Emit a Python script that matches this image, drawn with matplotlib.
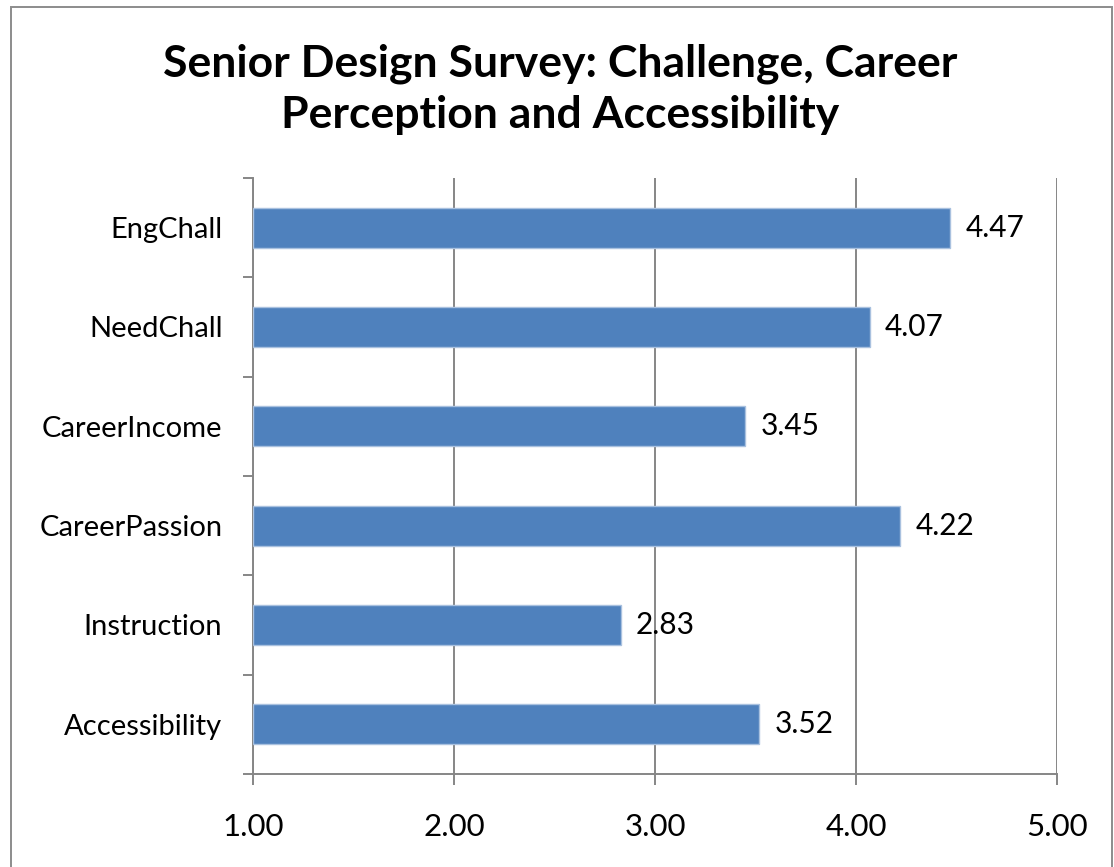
import numpy as np
import matplotlib.pyplot as plt
from matplotlib.patches import Rectangle

# Survey means (scale 1-5)
categories = ['EngChall', 'NeedChall', 'CareerIncome', 'CareerPassion', 'Instruction', 'Accessibility']
means = [4.47, 4.07, 3.45, 4.22, 2.83, 3.52]
x_ticks = [1.0, 2.0, 3.0, 4.0, 5.0]

title = 'Senior Design Survey: Challenge, Career\nPerception and Accessibility'

plt.rcParams['font.family'] = ['Lato', 'DejaVu Sans']

BAR = '#4f81bd'
GRID = '#868686'

fig = plt.figure(figsize=(11.14, 8.67), dpi=100)
ax = fig.add_axes([0.2271, 0.1073, 0.7217, 0.6874])

xmin, xmax = x_ticks[0], x_ticks[-1]
y = np.arange(len(categories))
vals = np.array(means)
ax.barh(y, vals - xmin, left=xmin, height=0.4, color=BAR,
        edgecolor='#a9c1df', linewidth=1, zorder=3)

for yi, v in zip(y, vals):
    ax.text(v + 0.075, yi, f'{v:.2f}', va='center', ha='left', fontsize=21.5, zorder=4)

ax.set_xlim(xmin, xmax)
ax.set_ylim(len(categories) - 0.5, -0.5)

# x axis: gridlines at each major tick
ax.set_xticks(x_ticks)
ax.set_xticklabels([f'{t:.2f}' for t in x_ticks], fontsize=22.5)
ax.xaxis.grid(True, color=GRID, linewidth=1.4, zorder=0)
ax.tick_params(axis='x', length=8, width=1.4, color=GRID, pad=20, direction='out')

# y axis: tick marks between categories, labels at bar centres
ax.set_yticks(np.arange(-0.5, len(categories), 1.0))
ax.set_yticklabels([])
ax.tick_params(axis='y', which='major', length=7, width=1.4, color=GRID, direction='out')
ax.set_yticks(y, minor=True)
ax.set_yticklabels(categories, minor=True, fontsize=21)
ax.tick_params(axis='y', which='minor', length=0, pad=22)

for side in ['top', 'right']:
    ax.spines[side].set_visible(False)
for side in ['left', 'bottom']:
    ax.spines[side].set_color(GRID)
    ax.spines[side].set_linewidth(1.4)
ax.set_axisbelow(True)

fig.text(0.503, 0.897, title, ha='center', va='center', fontsize=32,
         fontweight='bold', linespacing=1.34)

# chart area frame
fig.patches.append(Rectangle((11 / 1114, -0.01), 1101 / 1114, 1 - 7 / 867 + 0.01,
                             transform=fig.transFigure, fill=False,
                             edgecolor='#8c8c8c', linewidth=1.4))

fig.savefig('out.png', dpi=100)
